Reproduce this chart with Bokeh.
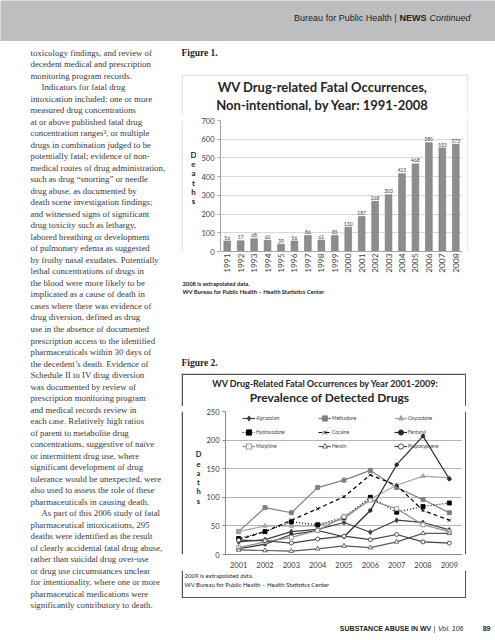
from math import pi
from bokeh.plotting import figure
from bokeh.models import Range1d, FactorRange, Legend, LegendItem, FixedTicker
from bokeh.layouts import column, row
from bokeh.embed import file_html
from bokeh.resources import INLINE
from bokeh.core.properties import value

# ---------------- data ----------------
years1 = [str(y) for y in range(1991, 2009)]
deaths1 = [56, 57, 68, 60, 39, 56, 86, 61, 85, 130, 187, 268, 303, 415, 468, 581, 553, 573]

years2 = [2001, 2002, 2003, 2004, 2005, 2006, 2007, 2008, 2009]
alprazolam = [22, 26, 40, 44, 56, 39, 60, 56, 43]
methadone = [40, 82, 73, 117, 130, 147, 117, 96, 73]
oxycodone = [40, 50, 50, 50, 62, 97, 121, 137, 134]
hydrocodone = [28, 40, 57, 52, 65, 100, 74, 84, 90]
cocaine = [26, 40, 60, 80, 101, 139, 121, 77, 60]
fentanyl = [10, 18, 35, 42, 31, 77, 157, 207, 132]
morphine = [12, 22, 30, 42, 66, 95, 80, 52, 40]
heroin = [8, 7, 6, 10, 15, 12, 22, 37, 37]
propoxyphene = [25, 24, 20, 27, 32, 26, 35, 22, 20]

body_lines = [
    "toxicology findings, and review of",
    "decedent medical and prescription",
    "monitoring program records.",
    "    Indicators for fatal drug",
    "intoxication included: one or more",
    "measured drug concentrations",
    "at or above published fatal drug",
    "concentration ranges\u00b3, or multiple",
    "drugs in combination judged to be",
    "potentially fatal; evidence of non-",
    "medical routes of drug administration,",
    "such as drug \u201csnorting\u201d or needle",
    "drug abuse, as documented by",
    "death scene investigation findings;",
    "and witnessed signs of significant",
    "drug toxicity such as lethargy,",
    "labored breathing or development",
    "of pulmonary edema as suggested",
    "by frothy nasal exudates. Potentially",
    "lethal concentrations of drugs in",
    "the blood were more likely to be",
    "implicated as a cause of death in",
    "cases where there was evidence of",
    "drug diversion, defined as drug",
    "use in the absence of documented",
    "prescription access to the identified",
    "pharmaceuticals within 30 days of",
    "the decedent\u2019s death. Evidence of",
    "Schedule II to IV drug diversion",
    "was documented by review of",
    "prescription monitoring program",
    "and medical records review in",
    "each case. Relatively high ratios",
    "of parent to metabolite drug",
    "concentrations, suggestive of na\u00efve",
    "or intermittent drug use, where",
    "significant development of drug",
    "tolerance would be unexpected, were",
    "also used to assess the role of these",
    "pharmaceuticals in causing death.",
    "    As part of this 2006 study of fatal",
    "pharmaceutical intoxications, 295",
    "deaths were identified as the result",
    "of clearly accidental fatal drug abuse,",
    "rather than suicidal drug over-use",
    "or drug use circumstances unclear",
    "for intentionality, where one or more",
    "pharmaceutical medications were",
    "significantly contributory to death.",
]

SERIF = value("Liberation Serif")
SANS = value("Liberation Sans")
CAL = value("Lato")
INK = "#231f20"
B1 = "#cfcfcf"   # light frame of figure 1
B2 = "#555555"   # dark frame of figure 2


def blank(w, h, xr, yr, bg="white"):
    p = figure(width=w, height=h, x_range=Range1d(*xr), y_range=Range1d(*yr),
               x_axis_type=None, y_axis_type=None, output_backend="svg",
               toolbar_location=None, min_border=0, background_fill_color=bg,
               border_fill_color=bg, outline_line_color=None)
    p.grid.visible = False
    return p


def put(p, x, y, txt, font, size, style="normal", align="left", color=INK):
    p.text(x=[x], y=[y], text=[txt], text_font=font, text_font_style=style,
           text_font_size=size, text_color=color, text_align=align, text_baseline="middle")


def edges(p, segs, color, width):
    p.segment(x0=[s[0] for s in segs], y0=[s[1] for s in segs],
              x1=[s[2] for s in segs], y1=[s[3] for s in segs],
              line_color=color, line_width=width)


# ---------------- header ----------------
header = blank(495, 41, (0, 495), (41, 0), bg="#bdbec0")
put(header, 396, 17.5, "Bureau for Public Health |", SANS, "9px", align="right")
put(header, 426, 17.5, "NEWS", SANS, "9px", style="bold", align="right")
put(header, 470, 17.5, "Continued", SANS, "9px", style="italic", align="right")

# ---------------- left text column ----------------
left = blank(181, 599, (0, 181), (640, 41))
xs = [30 + (11 if ln.startswith("    ") else 0) for ln in body_lines]
ys = [52 + i * 11.52 for i in range(len(body_lines))]
left.text(x=xs, y=ys, text=[ln.strip() for ln in body_lines], text_font=SERIF,
          text_font_size="8.8px", text_color="#3a3a3a", text_baseline="middle")

# ---------------- figure 1 caption ----------------
cap1 = blank(314, 33, (181, 495), (74, 41))
put(cap1, 181, 52, "Figure 1.", SERIF, "9.5px", style="bold")

# ---------------- chart 1 block (box 181..468 x 74..279) ----------------
t1 = blank(287, 40, (181, 468), (114, 74))
edges(t1, [(181, 74.5, 468, 74.5), (181.5, 74, 181.5, 114), (467.5, 74, 467.5, 114)], B1, 1)
put(t1, 322, 86, "WV Drug-related Fatal Occurrences,", CAL, "13px", style="bold", align="center", color="#262626")
put(t1, 322, 104, "Non-intentional, by Year: 1991-2008", CAL, "13px", style="bold", align="center", color="#262626")

d1 = blank(15, 163, (181, 196), (277, 114))
edges(d1, [(181.5, 114, 181.5, 277)], B1, 1)
d1.text(x=[193] * 6, y=[157 + i * 11.4 for i in range(6)], text=list("Deaths"),
        text_font=CAL, text_font_style="bold", text_font_size="8px", text_color="#262626",
        text_align="center", text_baseline="middle")

c1 = figure(width=268, height=163, x_range=FactorRange(*years1), y_range=Range1d(0, 700),
            output_backend="svg", toolbar_location=None,
            min_border_left=24, min_border_right=2, min_border_top=6, min_border_bottom=26,
            outline_line_color=None)
c1.vbar(x=years1, top=deaths1, width=0.5, fill_color="#8d8d8d", line_color="#777777", line_width=0.6)
c1.text(x=years1, y=deaths1, text=[str(v) for v in deaths1], text_font=CAL,
        text_font_size="5px", text_color="#404040", text_align="center",
        text_baseline="bottom", y_offset=-1.5)
c1.yaxis.ticker = FixedTicker(ticks=list(range(0, 701, 100)))
c1.ygrid.grid_line_color = "#d9d9d9"
c1.xgrid.visible = False
for ax in (c1.xaxis[0], c1.yaxis[0]):
    ax.axis_line_color = "#a6a6a6"
    ax.major_tick_line_color = "#a6a6a6"
    ax.minor_tick_line_color = None
    ax.major_label_text_font = "Lato"
    ax.major_label_text_color = "#404040"
c1.yaxis.major_label_text_font_size = "7.5px"
c1.yaxis.major_tick_out = 3
c1.yaxis.major_tick_in = 0
c1.yaxis.major_label_standoff = 3
c1.xaxis.major_label_orientation = pi / 2
c1.xaxis.major_label_text_font_size = "8.3px"
c1.xaxis.major_tick_out = 0
c1.xaxis.major_tick_in = 0
c1.xaxis.major_label_standoff = 2
c1.x_range.range_padding = 0

r1 = blank(4, 163, (464, 468), (277, 114))
edges(r1, [(467.5, 114, 467.5, 277)], B1, 1)

b1 = blank(287, 2, (181, 468), (279, 277))
edges(b1, [(181, 278.5, 468, 278.5), (181.5, 277, 181.5, 279), (467.5, 277, 467.5, 279)], B1, 1)

block1 = column(t1, row(d1, c1, r1), b1)

# ---------------- notes 1 + caption 2 ----------------
mid = blank(314, 94, (181, 495), (373, 279))
mid.text(x=[182, 182], y=[283, 291],
         text=["2008 is extrapolated data.", "WV Bureau for Public Health \u2013 Health Statistics Center"],
         text_font=CAL, text_font_style="bold", text_font_size="5.8px",
         text_color="#262626", text_baseline="middle")
put(mid, 181, 362, "Figure 2.", SERIF, "9.5px", style="bold")

# ---------------- chart 2 block (box 181..466 x 373..598) ----------------
t2 = blank(285, 33, (181, 466), (406, 373))
edges(t2, [(181, 373.75, 466, 373.75), (181.75, 373, 181.75, 406), (465.25, 373, 465.25, 406)], B2, 1.5)
put(t2, 325, 382.5, "WV Drug-Related Fatal Occurrences by Year 2001-2009:", CAL, "9px", style="bold",
    align="center", color="#262626")
put(t2, 329, 396.5, "Prevalence of Detected Drugs", CAL, "12px", style="bold", align="center", color="#262626")

d2 = blank(22, 164, (181, 203), (570, 406))
edges(d2, [(181.75, 406, 181.75, 570)], B2, 1.5)
d2.text(x=[198] * 6, y=[455 + i * 10.8 for i in range(6)], text=list("Deaths"),
        text_font=CAL, text_font_style="bold", text_font_size="7.5px", text_color="#262626",
        text_align="center", text_baseline="middle")

c2 = figure(width=259, height=164, x_range=Range1d(2000.5, 2009.5), y_range=Range1d(0, 250),
            output_backend="svg", toolbar_location=None,
            min_border_left=20, min_border_right=0, min_border_top=5, min_border_bottom=16,
            outline_line_color=None)
c2.xaxis.ticker = FixedTicker(ticks=years2)
c2.yaxis.ticker = FixedTicker(ticks=list(range(0, 251, 50)))
c2.ygrid.grid_line_color = "#b5b5b5"
c2.xgrid.visible = False
for ax in (c2.xaxis[0], c2.yaxis[0]):
    ax.axis_line_color = "#8c8c8c"
    ax.major_tick_line_color = "#8c8c8c"
    ax.minor_tick_line_color = None
    ax.major_label_text_font = "Lato"
    ax.major_label_text_color = "#404040"
    ax.major_label_text_font_size = "7.5px"
c2.yaxis.major_tick_out = 3
c2.yaxis.major_tick_in = 0
c2.yaxis.major_label_standoff = 3
c2.xaxis.major_tick_out = 0
c2.xaxis.major_tick_in = 0
c2.xaxis.major_label_standoff = 7

styles = [
    ("Alprazolam", alprazolam, "#3f3f3f", "solid", "diamond", "#3f3f3f", 5),
    ("Methadone", methadone, "#7f7f7f", "solid", "square", "#7f7f7f", 4),
    ("Oxycodone", oxycodone, "#a5a5a5", "solid", "triangle", "#a5a5a5", 4.5),
    ("Hydrocodone", hydrocodone, "#000000", "1 2", "square", "#000000", 4),
    ("Cocaine", cocaine, "#000000", "4 3", "x", "#000000", 4.5),
    ("Fentanyl", fentanyl, "#2b2b2b", "solid", "circle", "#2b2b2b", 3.5),
    ("Morphine", morphine, "#8c8c8c", "solid", "square", "white", 4),
    ("Heroin", heroin, "#595959", "solid", "triangle", "white", 4.5),
    ("Propoxyphene", propoxyphene, "#404040", "solid", "circle", "white", 4),
]
items = []
for name, vals, col, dash, mk, fill, sz in styles:
    ln = c2.line(years2, vals, line_color=col, line_width=1.2, line_dash=dash)
    sc = c2.scatter(years2, vals, marker=mk, size=sz, line_color=col, fill_color=fill, line_width=0.9)
    items.append(LegendItem(label=name, renderers=[ln, sc]))
leg = Legend(items=items, orientation="horizontal", ncols=3, location=(17, 101),
             glyph_width=13, glyph_height=14, label_width=62, label_height=14,
             label_standoff=1, spacing=0, padding=0, margin=0,
             background_fill_alpha=0, border_line_alpha=0,
             label_text_font="Lato", label_text_font_size="4.8px", label_text_color="#404040")
c2.add_layout(leg)

r2 = blank(4, 164, (462, 466), (570, 406))
edges(r2, [(465.25, 406, 465.25, 570)], B2, 1.5)

n2 = blank(285, 28, (181, 466), (598, 570))
edges(n2, [(181, 597.25, 466, 597.25), (181.75, 570, 181.75, 598), (465.25, 570, 465.25, 598)], B2, 1.5)
n2.text(x=[184, 184], y=[575, 583.5],
        text=["2009 is extrapolated data.", "WV Bureau for Public Health \u2013 Health Statistics Center"],
        text_font=CAL, text_font_size="6px", text_color="#262626", text_baseline="middle")

block2 = column(t2, row(d2, c2, r2), n2)

# ---------------- footer ----------------
foot = blank(314, 42, (181, 495), (640, 598))
put(foot, 431, 628, "SUBSTANCE ABUSE IN WV", SANS, "7px", style="bold", align="right")
put(foot, 434, 628, "|", SANS, "7px", align="center")
put(foot, 463, 628, "Vol. 106", SANS, "7px", style="italic", align="right")
put(foot, 490, 628, "89", SANS, "7px", style="bold", align="right")

right_col = column(cap1, block1, mid, block2, foot)
page = column(header, row(left, right_col))

open("out.html", "w").write(file_html(page, INLINE))
